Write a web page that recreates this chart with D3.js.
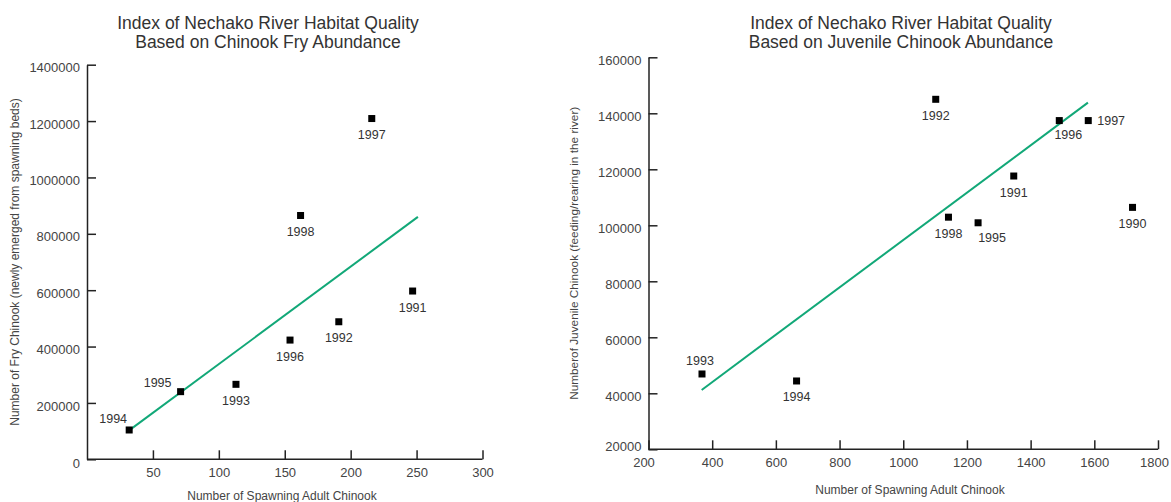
<!DOCTYPE html>
<html>
<head>
<meta charset="utf-8">
<script src="https://cdn.jsdelivr.net/npm/d3@7"></script>
<style>
  html, body { margin: 0; padding: 0; background: #fff; }
  svg { display: block; font-family: "Liberation Sans", Arial, sans-serif; }
</style>
</head>
<body>
<svg id="chart" width="1171" height="502"></svg>
<script>
// ---------- Data: left chart (fry) ----------
const fryYears = ["1994", "1995", "1993", "1996", "1992", "1991", "1998", "1997"];
const fryAdults = [32, 71, 113, 154, 191, 247, 162, 216];
const fryCounts = [104000, 240000, 266000, 423000, 488000, 597000, 865000, 1209000];
const fryLabelPlace = ["aboveLeft", "leftAbove", "below", "below", "below", "below", "below", "below"];
const fryTrendX = [33, 251];
const fryTrendY = [106000, 860000];
const fryXTicks = [50, 100, 150, 200, 250, 300];
const fryYTicks = [0, 200000, 400000, 600000, 800000, 1000000, 1200000, 1400000];

// ---------- Data: right chart (juvenile) ----------
const juvYears = ["1993", "1994", "1992", "1998", "1995", "1991", "1996", "1997", "1990"];
const juvAdults = [368, 665, 1102, 1142, 1235, 1347, 1490, 1581, 1720];
const juvCounts = [46900, 44400, 145000, 102900, 100900, 117600, 137400, 137400, 106400];
const juvLabelPlace = ["above", "below", "below", "below", "belowRight", "below", "belowRightNear", "right", "below"];
const juvTrendX = [367, 1580];
const juvTrendY = [41200, 143800];
const juvXTicks = [200, 400, 600, 800, 1000, 1200, 1400, 1600, 1800];
const juvYTicks = [20000, 40000, 60000, 80000, 100000, 120000, 140000, 160000];

const svg = d3.select("#chart");

const placeOffsets = {
  below: { dx: 0, dy: 16, anchor: "middle" },
  above: { dx: -2, dy: -13, anchor: "middle" },
  aboveLeft: { dx: -16, dy: -11, anchor: "middle" },
  leftAbove: { dx: -23, dy: -9, anchor: "middle" },
  belowRight: { dx: 14, dy: 15, anchor: "middle" },
  belowRightNear: { dx: 9, dy: 14, anchor: "middle" },
  right: { dx: 9, dy: 0, anchor: "start" }
};

function drawChart(cfg) {
  const g = svg.append("g");
  const x = d3.scaleLinear().domain(cfg.xDomain).range(cfg.xRange);
  const y = d3.scaleLinear().domain(cfg.yDomain).range(cfg.yRange);

  // Title
  const t = g.append("text")
    .attr("x", cfg.titleX).attr("y", 28.5)
    .attr("text-anchor", "middle")
    .attr("fill", "#333").style("font-size", "17.5px");
  t.append("tspan").attr("x", cfg.titleX).attr("y", 28.5).text(cfg.title[0]);
  t.append("tspan").attr("x", cfg.titleX).attr("y", 47.5).text(cfg.title[1]);

  // Axes
  const xAxis = d3.axisBottom(x).tickValues(cfg.xTicks).tickSizeInner(-9).tickSizeOuter(0).tickPadding(8)
    .tickFormat(d3.format("d"));
  const yAxis = d3.axisLeft(y).tickValues(cfg.yTicks).tickSizeInner(-9).tickSizeOuter(0).tickPadding(7)
    .tickFormat(d3.format("d"));

  const gx = g.append("g").attr("transform", `translate(0,${cfg.yRange[0]})`).call(xAxis);
  const gy = g.append("g").attr("transform", `translate(${cfg.xRange[0]},0)`).call(yAxis);

  [gx, gy].forEach(ax => {
    ax.select(".domain").attr("stroke", "#222").attr("stroke-width", 1.5);
    ax.selectAll(".tick line").attr("stroke", "#222").attr("stroke-width", 1.5);
    ax.selectAll(".tick text").attr("fill", "#444").style("font-size", "13px")
      .style("font-family", "\"Liberation Sans\", Arial, sans-serif");
  });
  gy.selectAll(".tick text").attr("dy", "0.55em");
  gy.selectAll(".tick text").filter((d, i) => i === 0).attr("dy", cfg.firstYLabelDy);
  // nudge first / last x tick labels as in the reference
  const xt = gx.selectAll(".tick text");
  xt.filter((d, i, n) => i === 0).attr("dx", cfg.firstXLabelDx);
  xt.filter((d, i, n) => i === n.length - 1).attr("dx", cfg.lastXLabelDx);
  // extend the x-axis line to the y-axis
  gx.select(".domain").attr("d", `M${cfg.xRange[0]},0H${cfg.xRange[1]}`);

  // Axis titles
  g.append("text")
    .attr("x", cfg.xTitleX).attr("y", cfg.xTitleY)
    .attr("text-anchor", "middle").attr("fill", "#444")
    .style("font-size", "12px").text(cfg.xTitle);
  g.append("text")
    .attr("transform", `translate(${cfg.yTitleX},${(cfg.yRange[0] + cfg.yRange[1]) / 2}) rotate(-90)`)
    .attr("text-anchor", "middle").attr("fill", "#444")
    .style("font-size", cfg.yTitleSize).text(cfg.yTitle);

  // Trend line
  const line = d3.line().x(d => x(d[0])).y(d => y(d[1]));
  g.append("path")
    .datum(cfg.trendX.map((v, i) => [v, cfg.trendY[i]]))
    .attr("d", line)
    .attr("fill", "none").attr("stroke", "#12a878").attr("stroke-width", 2);

  // Points
  const pts = cfg.years.map((yr, i) => ({ yr, x: cfg.xs[i], y: cfg.ys[i], place: cfg.places[i] }));
  g.selectAll("rect.pt").data(pts).enter().append("rect")
    .attr("class", "pt")
    .attr("x", d => x(d.x) - 3.5).attr("y", d => y(d.y) - 3.5)
    .attr("width", 7).attr("height", 7).attr("fill", "#000");

  g.selectAll("text.yr").data(pts).enter().append("text")
    .attr("class", "yr")
    .attr("x", d => x(d.x) + placeOffsets[d.place].dx)
    .attr("y", d => y(d.y) + placeOffsets[d.place].dy)
    .attr("dy", "0.36em")
    .attr("text-anchor", d => placeOffsets[d.place].anchor)
    .attr("fill", "#333").style("font-size", "12.5px")
    .text(d => d.yr);
}

drawChart({
  title: ["Index of Nechako River Habitat Quality", "Based on Chinook Fry Abundance"],
  titleX: 268,
  xDomain: [0, 300], xRange: [87, 482.5],
  yDomain: [0, 1400000], yRange: [459.3, 64.7],
  xTicks: fryXTicks, yTicks: fryYTicks, firstXLabelDx: 0, lastXLabelDx: 0, firstYLabelDy: "0.6em",
  xTitle: "Number of Spawning Adult Chinook", xTitleX: 282, xTitleY: 500,
  yTitle: "Number of Fry Chinook (newly emerged from spawning beds)", yTitleX: 18.5, yTitleSize: "12px",
  trendX: fryTrendX, trendY: fryTrendY,
  years: fryYears, xs: fryAdults, ys: fryCounts, places: fryLabelPlace
});

drawChart({
  title: ["Index of Nechako River Habitat Quality", "Based on Juvenile Chinook Abundance"],
  titleX: 901,
  xDomain: [200, 1800], xRange: [648.5, 1158],
  yDomain: [20000, 160000], yRange: [449.3, 57.3],
  xTicks: juvXTicks, yTicks: juvYTicks, firstXLabelDx: -5, lastXLabelDx: -4, firstYLabelDy: "0.1em",
  xTitle: "Number of Spawning Adult Chinook", xTitleX: 910, xTitleY: 493.5,
  yTitle: "Numberof Juvenile Chinook (feeding/rearing in the river)", yTitleX: 578, yTitleSize: "11.8px",
  trendX: juvTrendX, trendY: juvTrendY,
  years: juvYears, xs: juvAdults, ys: juvCounts, places: juvLabelPlace
});
</script>
</body>
</html>
